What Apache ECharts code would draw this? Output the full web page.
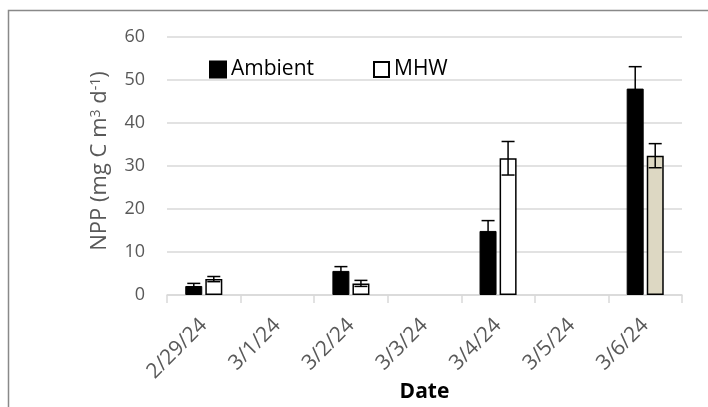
<!DOCTYPE html>
<html>
<head>
<meta charset="utf-8">
<script src="https://cdn.jsdelivr.net/npm/echarts@6/dist/echarts.min.js"></script>
<style>
  html, body { margin: 0; padding: 0; background: #fff; }
  #chart { width: 708px; height: 407px; }
</style>
</head>
<body>
<div id="chart"></div>
<script>
// Sampling dates on the category axis
const dates = ['2/29/24', '3/1/24', '3/2/24', '3/3/24', '3/4/24', '3/5/24', '3/6/24'];

// Net primary production means (mg C m^-3 d^-1); null = not sampled
const ambientNPP = [2.1, null, 5.6, null, 14.9, null, 48.0];
const mhwNPP     = [3.7, null, 2.7, null, 31.8, null, 32.4];

// Standard errors for each mean
const ambientErr = [0.6, null, 1.0, null, 2.4, null, 5.1];
const mhwErr     = [0.6, null, 0.7, null, 3.9, null, 2.8];

const yTicks = { min: 0, max: 60, interval: 10 };

const FONT = '"Open Sans", sans-serif';
const BAR_W = 17;
const HALF_OFFSET = 10; // distance of each bar centre from the category centre

function errorData(vals, errs) {
  const out = [];
  vals.forEach((v, i) => {
    if (v !== null) out.push([i, v, errs[i]]);
  });
  return out;
}

function errorSeries(name, vals, errs, dir) {
  return {
    type: 'custom',
    name: name + ' err',
    data: errorData(vals, errs),
    z: 5,
    silent: true,
    renderItem: function (params, api) {
      const i = api.value(0);
      const v = api.value(1);
      const e = api.value(2);
      const top = api.coord([i, v + e]);
      const bot = api.coord([i, v - e]);
      const x = top[0] + dir * HALF_OFFSET;
      const cap = 6.5;
      const style = { stroke: '#000', lineWidth: 1.5, fill: null };
      return {
        type: 'group',
        children: [
          { type: 'line', shape: { x1: x, y1: top[1], x2: x, y2: bot[1] }, style: style },
          { type: 'line', shape: { x1: x - cap, y1: top[1], x2: x + cap, y2: top[1] }, style: style },
          { type: 'line', shape: { x1: x - cap, y1: bot[1], x2: x + cap, y2: bot[1] }, style: style }
        ]
      };
    }
  };
}

const mhwBarData = mhwNPP.map((v, i) => {
  if (i === 6) return { value: v, itemStyle: { color: '#ddd8c3' } };
  return v;
});

const chart = echarts.init(document.getElementById('chart'), null, { renderer: 'canvas' });

chart.setOption({
  animation: false,
  backgroundColor: '#fff',
  textStyle: { fontFamily: FONT },
  grid: { left: 167, right: 26, top: 37, bottom: 112, containLabel: false, outerBoundsMode: 'none' },
  graphic: [
    {
      type: 'rect',
      shape: { x: 8.5, y: 10.5, width: 760, height: 460 },
      style: { fill: null, stroke: '#898989', lineWidth: 1.5 },
      z: -10
    },
    {
      type: 'text',
      x: 424.5, y: 392,
      style: {
        text: 'Date',
        fontFamily: FONT, fontSize: 21, fontWeight: 'bold', fill: '#000',
        align: 'center', verticalAlign: 'middle'
      }
    }
  ],
  legend: [
    {
      data: ['Ambient'],
      left: 204, top: 54,
      itemWidth: 16, itemHeight: 16,
      icon: 'rect',
      itemGap: 0,
      textStyle: { fontFamily: FONT, fontSize: 21, color: '#000' }
    },
    {
      data: ['MHW'],
      left: 368, top: 54,
      itemWidth: 15, itemHeight: 15,
      icon: 'rect',
      textStyle: { fontFamily: FONT, fontSize: 21, color: '#000' }
    }
  ],
  xAxis: {
    type: 'category',
    data: dates,
    axisLine: { lineStyle: { color: '#d9d9d9', width: 1.5 } },
    axisTick: { show: true, length: 8, lineStyle: { color: '#d9d9d9', width: 1.5 } },
    axisLabel: { rotate: 45, margin: 27, fontFamily: FONT, fontSize: 21, color: '#595959' }
  },
  yAxis: {
    type: 'value',
    min: yTicks.min, max: yTicks.max, interval: yTicks.interval,
    name: 'NPP (mg C m{sup|3} d{sup|-1})',
    nameLocation: 'middle',
    nameGap: 56,
    nameTextStyle: {
      fontFamily: FONT, fontSize: 22, color: '#595959', padding: [0, 0, 0, 10],
      rich: {
        sup: { fontFamily: FONT, fontSize: 14, color: '#595959', verticalAlign: 'top', padding: [0, 0, 8, 0] }
      }
    },
    axisLine: { show: false },
    axisTick: { show: false },
    axisLabel: { margin: 22, fontFamily: FONT, fontSize: 18, color: '#595959' },
    splitLine: { lineStyle: { color: '#d9d9d9', width: 1.5 } }
  },
  series: [
    {
      name: 'Ambient',
      type: 'bar',
      data: ambientNPP,
      barWidth: BAR_W,
      barGap: '18%',
      itemStyle: { color: '#000', borderColor: '#000', borderWidth: 1 }
    },
    {
      name: 'MHW',
      type: 'bar',
      data: mhwBarData,
      barWidth: BAR_W,
      itemStyle: { color: '#fff', borderColor: '#000', borderWidth: 1.5 }
    },
    errorSeries('Ambient', ambientNPP, ambientErr, -1),
    errorSeries('MHW', mhwNPP, mhwErr, 1)
  ]
});
</script>
</body>
</html>
